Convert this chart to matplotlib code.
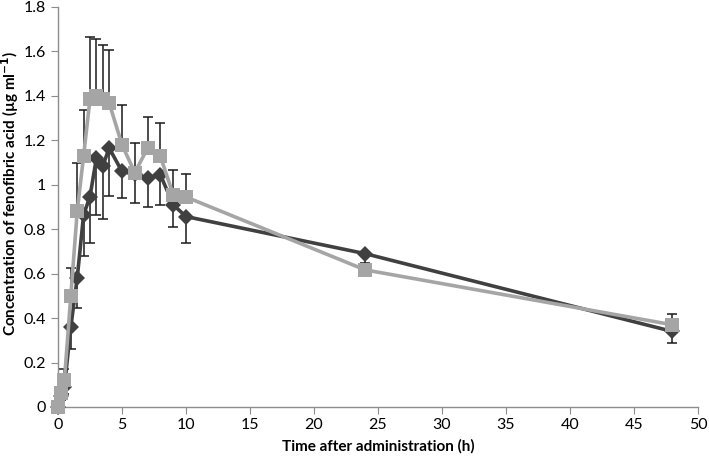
import numpy as np
import matplotlib.pyplot as plt

plt.rcParams['font.family'] = ['Lato', 'DejaVu Sans']

# sampling times (h)
time_h = [0, 0.25, 0.5, 1, 1.5, 2, 2.5, 3, 3.5, 4, 5, 6, 7, 8, 9, 10, 24, 48]

# dark series (diamonds), shown with minus error bars
dark_mean = [0, 0.05, 0.09, 0.36, 0.58, 0.865, 0.947, 1.12, 1.085, 1.165,
             1.06, 1.05, 1.03, 1.045, 0.91, 0.857, 0.69, 0.34]
dark_err = [0, 0.02, 0.03, 0.10, 0.135, 0.185, 0.21, 0.255, 0.24, 0.215,
            0.12, 0.13, 0.13, 0.138, 0.10, 0.12, 0.10, 0.053]

# light series (squares), shown with plus error bars
light_mean = [0, 0.063, 0.12, 0.50, 0.88, 1.13, 1.387, 1.40, 1.386, 1.368,
              1.18, 1.055, 1.165, 1.128, 0.955, 0.945, 0.617, 0.37]
light_err = [0, 0.03, 0.05, 0.125, 0.217, 0.208, 0.28, 0.256, 0.245, 0.24,
             0.178, 0.135, 0.14, 0.15, 0.11, 0.103, 0.03, 0.05]

x_ticks = list(range(0, 51, 5))
y_ticks = [0, 0.2, 0.4, 0.6, 0.8, 1, 1.2, 1.4, 1.6, 1.8]

fig = plt.figure(figsize=(7.09, 4.58), dpi=100)
ax = fig.add_axes([58 / 709, 1 - 407 / 458, 640 / 709, 400 / 458])

zeros = np.zeros(len(time_h))
ax.errorbar(time_h, dark_mean, yerr=[dark_err, zeros], fmt='none',
            ecolor='#1a1a1a', elinewidth=1.1, capsize=3.5, capthick=1.1, zorder=2)
ax.errorbar(time_h, light_mean, yerr=[zeros, light_err], fmt='none',
            ecolor='#1a1a1a', elinewidth=1.1, capsize=3.5, capthick=1.1, zorder=2)

ax.plot(time_h, dark_mean, color='#404040', lw=2.6, marker='D', ms=8,
        markeredgewidth=0, zorder=3, clip_on=False)
ax.plot(time_h, light_mean, color='#a5a5a5', lw=2.6, marker='s', ms=10,
        markeredgewidth=0, zorder=4, clip_on=False)

ax.set_xlim(0, 50)
ax.set_ylim(0, 1.8)
ax.set_xticks(x_ticks)
ax.set_yticks(y_ticks)
ax.set_yticklabels([f'{v:g}' for v in y_ticks])

for side in ['top', 'right']:
    ax.spines[side].set_visible(False)
for side in ['left', 'bottom']:
    ax.spines[side].set_color('#8c8c8c')
    ax.spines[side].set_linewidth(1)
ax.tick_params(axis='both', colors='#8c8c8c', labelcolor='black',
               labelsize=11.5, length=5, direction='out')
ax.tick_params(axis='x', pad=3)

ax.set_xlabel('Time after administration (h)', fontsize=11,
              fontweight='bold', labelpad=5)
ax.set_ylabel('Concentration of fenofibric acid (µg ml$^{\\mathbf{-1}}$)',
              fontsize=11, fontweight='bold')
ax.yaxis.set_label_coords(-0.058, 0.535)

fig.savefig('out.png', dpi=100)
